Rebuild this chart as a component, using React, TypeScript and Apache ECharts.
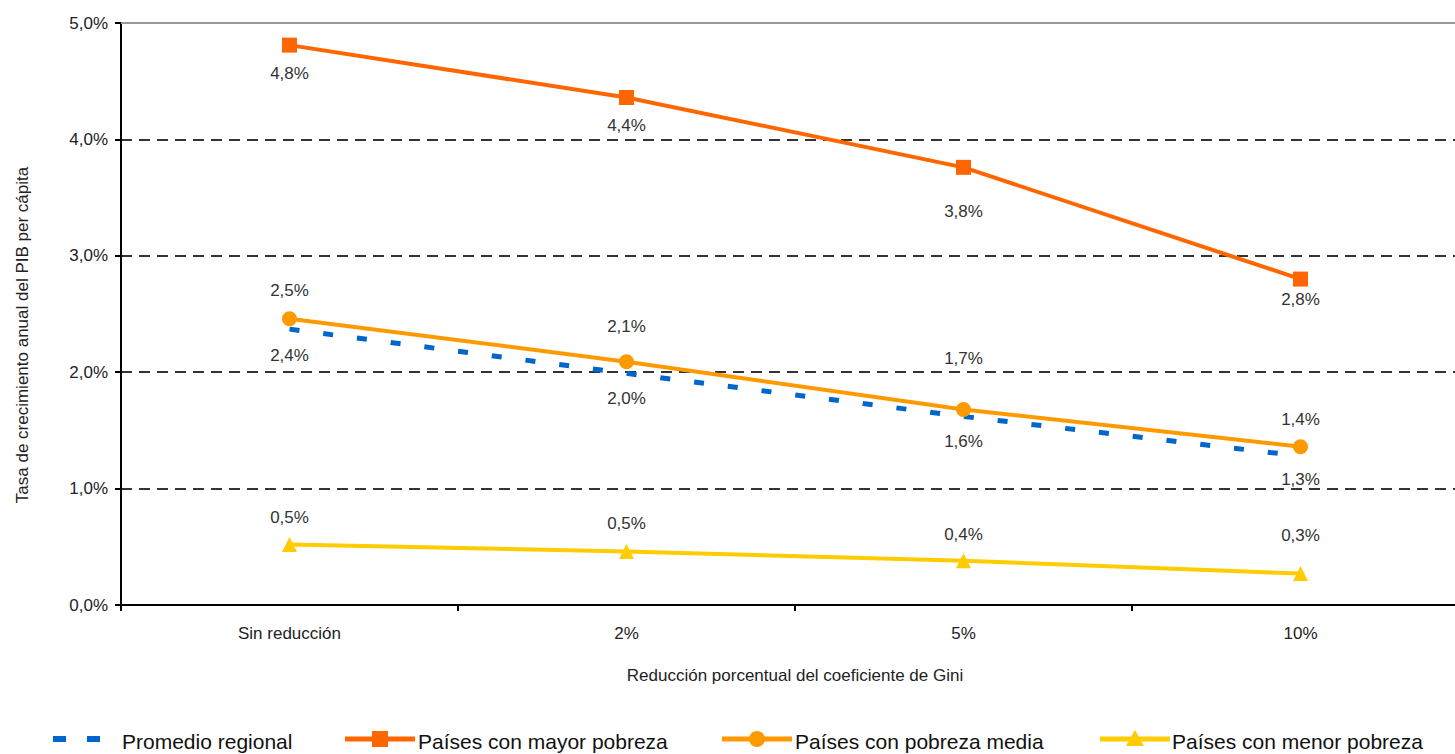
import React, { useEffect, useRef } from "react";
import * as echarts from "echarts";

const categories = ["Sin reducción", "2%", "5%", "10%"];
const promedioRegional = [2.37, 1.99, 1.62, 1.28];
const mayorPobreza = [4.81, 4.36, 3.76, 2.8];
const pobrezaMedia = [2.46, 2.09, 1.68, 1.36];
const menorPobreza = [0.52, 0.46, 0.38, 0.27];
const yTicks = [0, 1, 2, 3, 4, 5];

// label vertical offsets (styling)
const offPromedio = [26, 25, 25, 23];
const offMayor = [28, 28, 44, 20];
const offMedia = [-28, -35, -51, -27];
const offMenor = [-27, -28, -26, -38];

const FONT = "'Liberation Sans', Arial, sans-serif";
const fmt = (v: number) => v.toFixed(1).replace(".", ",") + "%";

function withLabels(vals: number[], offs: number[]) {
  return vals.map((v, i) => ({
    value: v,
    label: { offset: [0, offs[i]] },
  }));
}

export default function App() {
  const ref = useRef<HTMLDivElement>(null);
  useEffect(() => {
    document.body.style.margin = "0";
    document.body.style.overflow = "hidden";
    document.documentElement.style.overflow = "hidden";
    const chart = echarts.init(ref.current!, null, { renderer: "svg" });
    const labelBase = {
      show: true,
      position: "inside",
      color: "#333",
      fontSize: 17,
      fontFamily: FONT,
      formatter: (p: any) => fmt(p.value),
    };
    const legendY = 739;
    const legendText = (x: number, t: string) => ({
      type: "text",
      x,
      y: 741,
      style: {
        text: t,
        font: `21px ${FONT}`,
        fill: "#111",
        verticalAlign: "middle",
        align: "left",
      },
    });
    const legendLine = (x1: number, x2: number, color: string) => ({
      type: "line",
      shape: { x1, y1: legendY, x2, y2: legendY },
      style: { stroke: color, lineWidth: 5 },
    });
    chart.setOption({
      animation: false,
      grid: { left: 121, top: 23, right: 0, bottom: 149, containLabel: false },
      xAxis: [
        {
          type: "category",
          data: categories,
          boundaryGap: true,
          axisLine: { lineStyle: { color: "#000", width: 2 } },
          axisTick: { show: true, length: 6, lineStyle: { color: "#000", width: 2 } },
          axisLabel: { color: "#222", fontSize: 17, fontFamily: FONT, margin: 20 },
          name: "Reducción porcentual del coeficiente de Gini",
          nameLocation: "middle",
          nameGap: 62,
          nameTextStyle: { color: "#222", fontSize: 17, fontFamily: FONT },
          splitLine: { show: false },
        },
        {
          type: "category",
          position: "top",
          data: categories,
          axisLine: { show: true, lineStyle: { color: "#999", width: 2 } },
          axisTick: { show: false },
          axisLabel: { show: false },
        },
      ],
      yAxis: {
        type: "value",
        min: yTicks[0],
        max: yTicks[yTicks.length - 1],
        interval: 1,
        axisLine: { show: true, lineStyle: { color: "#000", width: 2 } },
        axisTick: { show: true, length: 6, lineStyle: { color: "#000", width: 2 } },
        axisLabel: {
          color: "#222",
          fontSize: 17,
          fontFamily: FONT,
          margin: 13,
          formatter: (v: number) => fmt(v),
        },
        splitLine: {
          show: true,
          lineStyle: { color: "#333", width: 2, type: [11, 7] },
        },
      },
      graphic: [
        {
          type: "text",
          x: 22,
          y: 335,
          rotation: Math.PI / 2,
          style: {
            text: "Tasa de crecimiento anual del PIB per cápita",
            font: `17px ${FONT}`,
            fill: "#222",
            align: "center",
            verticalAlign: "middle",
          },
        },
        { type: "rect", shape: { x: 53, y: legendY - 3, width: 13, height: 6 }, style: { fill: "#0066CC" } },
        { type: "rect", shape: { x: 87, y: legendY - 3, width: 13, height: 6 }, style: { fill: "#0066CC" } },
        legendText(122, "Promedio regional"),
        legendLine(345, 415, "#FF6600"),
        { type: "rect", shape: { x: 372, y: legendY - 8, width: 16, height: 16 }, style: { fill: "#FF6600" } },
        legendText(418, "Países con mayor pobreza"),
        legendLine(722, 792, "#FF9900"),
        { type: "circle", shape: { cx: 757, cy: legendY, r: 8 }, style: { fill: "#FF9900" } },
        legendText(795, "Países con pobreza media"),
        legendLine(1100, 1170, "#FFCC00"),
        {
          type: "polygon",
          shape: { points: [[1135, legendY - 9], [1144, legendY + 7], [1126, legendY + 7]] },
          style: { fill: "#FFCC00" },
        },
        legendText(1172, "Países con menor pobreza"),
      ],
      series: [
        {
          name: "Promedio regional",
          type: "line",
          data: withLabels(promedioRegional, offPromedio),
          symbol: "circle",
          symbolSize: 1,
          itemStyle: { color: "rgba(0,0,0,0)" },
          lineStyle: { color: "#0066CC", width: 5, type: [10, 24] },
          label: labelBase,
          z: 2,
        },
        {
          name: "Países con mayor pobreza",
          type: "line",
          data: withLabels(mayorPobreza, offMayor),
          symbol: "rect",
          symbolSize: 15,
          itemStyle: { color: "#FF6600" },
          lineStyle: { color: "#FF6600", width: 4 },
          label: labelBase,
          z: 3,
        },
        {
          name: "Países con pobreza media",
          type: "line",
          data: withLabels(pobrezaMedia, offMedia),
          symbol: "circle",
          symbolSize: 15,
          itemStyle: { color: "#FF9900" },
          lineStyle: { color: "#FF9900", width: 4 },
          label: labelBase,
          z: 3,
        },
        {
          name: "Países con menor pobreza",
          type: "line",
          data: withLabels(menorPobreza, offMenor),
          symbol: "triangle",
          symbolSize: 15,
          itemStyle: { color: "#FFCC00" },
          lineStyle: { color: "#FFCC00", width: 4 },
          label: labelBase,
          z: 3,
        },
      ],
    });
    return () => chart.dispose();
  }, []);
  return <div ref={ref} style={{ width: 1469, height: 754 }} />;
}
